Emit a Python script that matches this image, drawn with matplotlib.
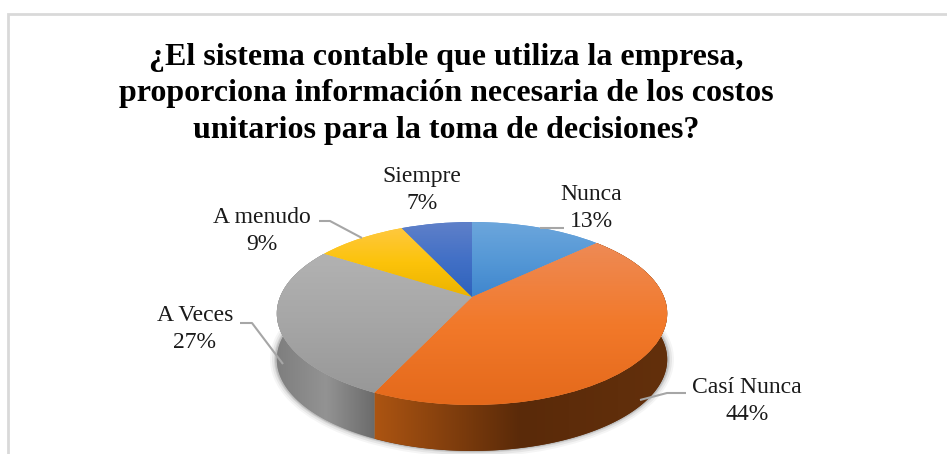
#!/bin/env python3
"""
3D looking pie chart about the accounting system survey question.
"""
import numpy as np
import matplotlib
matplotlib.use('Agg')
import matplotlib.pyplot as plt
from matplotlib.patches import Polygon, Ellipse
from matplotlib.transforms import Transform

# Data
categories = ['Nunca', 'Casí Nunca', 'A Veces', 'A menudo', 'Siempre']
percentages = [13, 44, 27, 9, 7]
title = ('¿El sistema contable que utiliza la empresa,\n'
         'proporciona información necesaria de los costos\n'
         'unitarios para la toma de decisiones?')

# Colours, top face gradient (back to front)
top_colors = [
    ['#6CA6DC', '#5598D6', '#3F86CE'],
    ['#EE8A55', '#F2792A', '#E4691B'],
    ['#B2B2B2', '#A6A6A6', '#989898'],
    ['#FFC83F', '#FCC30A', '#EBB300'],
    ['#5F80C9', '#4270C6', '#2E62BC'],
]
side_stops = {
    1: ['#AD5512', '#5A2A09', '#63300C'],
    2: ['#7E7E7E', '#939393', '#6A6A6A'],
}
border_color = '#D9D9D9'
leader_color = '#A6A6A6'
text_color = '#1A1A1A'

# Pie geometry in pixels
APEX_X, APEX_Y = 472, 297
SCALE_X, SCALE_Y = 192, 88.5
TILT = 0.18
DEPTH = 46


class PerspectiveTransform(Transform):
    """Maps the unit pie disc to pixel positions with a simple perspective"""
    input_dims = 2
    output_dims = 2

    def transform_non_affine(self, values):
        xy = np.asarray(values, dtype=float)
        w = 1 + TILT * xy[:, 1]
        return np.column_stack((APEX_X + SCALE_X * xy[:, 0] / w,
                                APEX_Y - SCALE_Y * xy[:, 1] / w))


def gradient_image(ax, stops, vertical, extent):
    """Draw a gradient image which gets clipped later"""
    cmap = matplotlib.colors.LinearSegmentedColormap.from_list('g', stops)
    ramp = np.linspace(0, 1, 256)
    arr = ramp[:, None] if vertical else ramp[None, :]
    return ax.imshow(arr, cmap=cmap, extent=extent, aspect='auto', zorder=3,
                     origin='upper', interpolation='bilinear')


plt.rcParams['font.family'] = ['Liberation Serif', 'DejaVu Serif']
fig = plt.figure(figsize=(9.47, 4.54), dpi=100)
ax = fig.add_axes([0, 0, 1, 1])

persp = PerspectiveTransform()
wedges, _ = ax.pie(percentages, startangle=90, counterclock=False, radius=1)

# Soft shadow below the pie
for grow, alpha in [(6, 0.04), (4, 0.06), (2, 0.08), (1, 0.10)]:
    ax.add_patch(Ellipse((APEX_X, APEX_Y + 16.5 + DEPTH), 2 * (196 + grow),
                         2 * (91.5 + grow), facecolor='black', edgecolor='none',
                         alpha=alpha, zorder=1))

# Side walls, only gray and orange slices can be seen from the front
seam_x = persp.transform(np.array([[np.cos(np.radians(wedges[1].theta1)),
                                    np.sin(np.radians(wedges[1].theta1))]]))[0, 0]
for i, stops in side_stops.items():
    theta = np.radians(np.linspace(wedges[i].theta1, wedges[i].theta2, 200))
    rim = persp.transform(np.column_stack((np.cos(theta), np.sin(theta))))
    lower = rim[::-1] + [0, DEPTH]
    wall = Polygon(np.vstack((rim, lower)), closed=True, facecolor=stops[1],
                   edgecolor='none', zorder=2)
    ax.add_patch(wall)
    x_range = (276, seam_x + 1) if i == 2 else (seam_x - 1, 668)
    img = gradient_image(ax, stops, False, (x_range[0], x_range[1], 454, 200))
    img.set_zorder(2)
    img.set_clip_path(wall)

# Top faces of the slices, gradient runs over the height of each slice
for i, wedge in enumerate(wedges):
    wedge.set_transform(persp + ax.transData)
    wedge.set_facecolor(top_colors[i][1])
    wedge.set_edgecolor('none')
    wedge.set_zorder(3)
    theta = np.radians(np.linspace(wedge.theta1, wedge.theta2, 100))
    rim = persp.transform(np.column_stack((np.cos(theta), np.sin(theta))))
    y_top = rim[:, 1].min()
    y_bottom = max(rim[:, 1].max(), APEX_Y)
    img = gradient_image(ax, top_colors[i], True, (270, 675, y_bottom, y_top))
    img.set_clip_path(wedge)

# Leader lines
leaders = [
    ([540, 564], [228, 228]),
    ([640, 667, 686], [400, 393, 393]),
    ([283, 252, 240], [364, 323, 323]),
    ([362, 330, 319], [238, 221, 221]),
]
for xs, ys in leaders:
    ax.plot(xs, ys, color=leader_color, lw=1.5, zorder=4, solid_capstyle='butt')

# Labels
label_pos = [(591, 208), (747, 401), (195, 329), (262, 231), (422, 190)]
for name, pct, (x, y) in zip(categories, percentages, label_pos):
    ax.text(x, y, f'{name}\n{pct}%', ha='center', va='center', ma='center',
            fontsize=17, color=text_color, linespacing=1.34, zorder=5)

ax.text(446, 94, title, ha='center', va='center', ma='center', fontsize=23,
        fontweight='bold', color='black', linespacing=1.35, zorder=5)

# Chart border, right and bottom sides are cut off
ax.plot([8, 8, 947], [454, 14, 14], color=border_color, lw=2, zorder=1,
        solid_joinstyle='miter')

ax.set_xlim(0, 947)
ax.set_ylim(454, 0)
ax.set_aspect('auto')
ax.set_frame_on(False)
ax.set_xticks([])
ax.set_yticks([])

fig.savefig('out.png', dpi=100)
